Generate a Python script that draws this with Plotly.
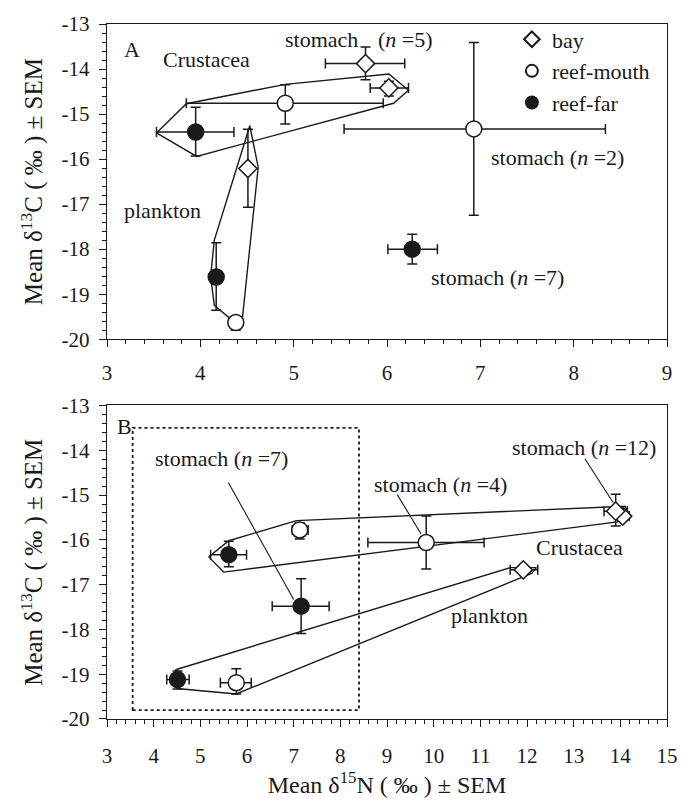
import plotly.graph_objects as go

FONT = "Liberation Serif"
INK = "#1a1a1a"

# ---------------- Panel A data ----------------
groups = ["bay", "reef-mouth", "reef-far"]

a_bay_x = [6.02, 5.77, 4.51]
a_bay_y = [-14.42, -13.88, -16.21]
a_bay_xm = [0.20, 0.43, 0.04]
a_bay_xp = [0.21, 0.42, 0.04]
a_bay_yp = [0.15, 0.37, 0.87]
a_bay_ym = [0.18, 0.36, 0.86]

a_mouth_x = [4.91, 6.93, 4.38]
a_mouth_y = [-14.76, -15.33, -19.63]
a_mouth_xm = [1.06, 1.39, 0.05]
a_mouth_xp = [1.05, 1.41, 0.05]
a_mouth_yp = [0.41, 1.92, 0.10]
a_mouth_ym = [0.46, 1.92, 0.17]

a_far_x = [3.95, 6.27, 4.17]
a_far_y = [-15.40, -18.00, -18.62]
a_far_xm = [0.42, 0.26, 0.03]
a_far_xp = [0.41, 0.27, 0.03]
a_far_yp = [0.55, 0.33, 0.76]
a_far_ym = [0.53, 0.33, 0.74]

a_crust_x = [3.53, 3.85, 4.91, 6.02, 6.23, 6.07, 3.96, 3.53]
a_crust_y = [-15.42, -14.77, -14.34, -14.11, -14.47, -14.76, -15.94, -15.42]
a_plank_x = [4.53, 4.62, 4.44, 4.15, 4.11, 4.15, 4.53]
a_plank_y = [-15.26, -16.18, -19.75, -19.25, -18.60, -17.80, -15.26]

# ---------------- Panel B data ----------------
b_bay_x = [14.05, 13.90, 11.92]
b_bay_y = [-15.47, -15.36, -16.67]
b_bay_xm = [0.10, 0.25, 0.28]
b_bay_xp = [0.14, 0.25, 0.31]
b_bay_yp = [0.10, 0.38, 0.04]
b_bay_ym = [0.10, 0.33, 0.04]

b_mouth_x = [7.13, 9.84, 5.77]
b_mouth_y = [-15.78, -16.06, -19.19]
b_mouth_xm = [0.16, 1.25, 0.34]
b_mouth_xp = [0.18, 1.24, 0.32]
b_mouth_yp = [0.16, 0.59, 0.31]
b_mouth_ym = [0.20, 0.59, 0.25]

b_far_x = [5.61, 7.16, 4.51]
b_far_y = [-16.33, -17.48, -19.12]
b_far_xm = [0.39, 0.62, 0.23]
b_far_xp = [0.38, 0.60, 0.25]
b_far_yp = [0.30, 0.61, 0.19]
b_far_ym = [0.27, 0.61, 0.21]

b_crust_x = [5.18, 5.61, 7.06, 14.10, 14.19, 13.94, 5.50, 5.18]
b_crust_y = [-16.38, -16.02, -15.57, -15.25, -15.42, -15.60, -16.72, -16.38]
b_plank_x = [4.47, 11.65, 12.20, 12.10, 5.77, 4.50, 4.47]
b_plank_y = [-18.90, -16.62, -16.62, -16.75, -19.44, -19.32, -18.90]

b_box_x = [3.55, 8.40]
b_box_y = [-19.80, -13.50]

# leader lines (x0, y0, x1, y1)
b_leader_n7 = [5.60, -14.72, 7.00, -17.33]
b_leader_n4 = [9.22, -14.99, 9.73, -15.87]
b_leader_n12 = [13.24, -14.19, 13.85, -15.17]

# labels
a_labels = [("A", 3.27, -13.57), ("Crustacea", 4.07, -13.78), ("plankton", 3.59, -17.15),
            ("stomach", 5.30, -13.35), ("(<i>n</i> =5)", 6.20, -13.35),
            ("stomach (<i>n</i> =2)", 7.83, -15.96), ("stomach (<i>n</i> =7)", 7.18, -18.64)]
b_labels = [("B", 3.37, -13.46), ("stomach (<i>n</i> =7)", 5.46, -14.19),
            ("stomach (<i>n</i> =4)", 10.14, -14.77), ("stomach (<i>n</i> =12)", 13.22, -13.93),
            ("Crustacea", 13.13, -16.16), ("plankton", 11.20, -17.69)]

y_tickvals = [-13, -14, -15, -16, -17, -18, -19, -20]
y_ticktext = ["-13", "-14", "-15", "-16", "-17", "-18", "-19", "-20"]
a_xtickvals = [3, 4, 5, 6, 7, 8, 9]
b_xtickvals = list(range(3, 16))

styles = {
    "bay": dict(symbol="diamond", size=14, color="white", line=dict(color=INK, width=1.5)),
    "reef-mouth": dict(symbol="circle", size=16, color="white", line=dict(color=INK, width=1.5)),
    "reef-far": dict(symbol="circle", size=16, color=INK, line=dict(color=INK, width=1.5)),
}

fig = go.Figure()


def poly(x, y, xa, ya):
    fig.add_trace(go.Scatter(x=x, y=y, mode="lines", line=dict(color=INK, width=1.4),
                             xaxis=xa, yaxis=ya, showlegend=False, hoverinfo="skip"))


def pts(name, x, y, xm, xp, ym, yp, xa, ya, legend):
    fig.add_trace(go.Scatter(
        x=x, y=y, mode="markers", name=name, marker=styles[name],
        error_x=dict(type="data", symmetric=False, array=xp, arrayminus=xm,
                     color=INK, thickness=1.5, width=5),
        error_y=dict(type="data", symmetric=False, array=yp, arrayminus=ym,
                     color=INK, thickness=1.5, width=5),
        xaxis=xa, yaxis=ya, showlegend=legend))


poly(a_crust_x, a_crust_y, "x", "y")
poly(a_plank_x, a_plank_y, "x", "y")
poly(b_crust_x, b_crust_y, "x2", "y2")
poly(b_plank_x, b_plank_y, "x2", "y2")

for ln in (b_leader_n7, b_leader_n4, b_leader_n12):
    fig.add_trace(go.Scatter(x=[ln[0], ln[2]], y=[ln[1], ln[3]], mode="lines",
                             line=dict(color=INK, width=1.1), xaxis="x2", yaxis="y2",
                             showlegend=False, hoverinfo="skip"))

pts("bay", a_bay_x, a_bay_y, a_bay_xm, a_bay_xp, a_bay_ym, a_bay_yp, "x", "y", True)
pts("reef-mouth", a_mouth_x, a_mouth_y, a_mouth_xm, a_mouth_xp, a_mouth_ym, a_mouth_yp, "x", "y", True)
pts("reef-far", a_far_x, a_far_y, a_far_xm, a_far_xp, a_far_ym, a_far_yp, "x", "y", True)
pts("bay", b_bay_x, b_bay_y, b_bay_xm, b_bay_xp, b_bay_ym, b_bay_yp, "x2", "y2", False)
pts("reef-mouth", b_mouth_x, b_mouth_y, b_mouth_xm, b_mouth_xp, b_mouth_ym, b_mouth_yp, "x2", "y2", False)
pts("reef-far", b_far_x, b_far_y, b_far_xm, b_far_xp, b_far_ym, b_far_yp, "x2", "y2", False)

fig.add_shape(type="rect", xref="x2", yref="y2", x0=b_box_x[0], x1=b_box_x[1],
              y0=b_box_y[0], y1=b_box_y[1], line=dict(color=INK, width=1.8, dash="dot"))

for t, x, y in a_labels:
    fig.add_annotation(text=t, x=x, y=y, xref="x", yref="y", showarrow=False,
                       font=dict(family=FONT, size=22, color=INK))
for t, x, y in b_labels:
    fig.add_annotation(text=t, x=x, y=y, xref="x2", yref="y2", showarrow=False,
                       font=dict(family=FONT, size=22, color=INK))

axis_common = dict(showline=True, linecolor=INK, linewidth=1.4, mirror=True,
                   ticks="outside", ticklen=7, tickwidth=1.4, tickcolor=INK,
                   showgrid=False, zeroline=False,
                   tickfont=dict(family=FONT, size=21, color=INK))
minor = dict(dtick=0.2, ticks="outside", ticklen=4, tickwidth=1.1, tickcolor=INK, showgrid=False)

# inner halves of the crossing major ticks
inner = dict(showline=False, ticks="inside", ticklen=7, tickwidth=1.4, tickcolor=INK,
             showticklabels=False, showgrid=False, zeroline=False, tickmode="array")

ytitle = "Mean δ<sup>13</sup>C ( ‰ ) ± SEM"

fig.update_layout(
    width=690, height=803,
    margin=dict(l=107, r=19, t=16, b=77),
    paper_bgcolor="white", plot_bgcolor="white",
    font=dict(family=FONT, color=INK),
    xaxis=dict(domain=[0, 1], anchor="y", range=[3, 9], tickmode="array",
               tickvals=a_xtickvals, ticklabelstandoff=7, minor=minor, **axis_common),
    yaxis=dict(domain=[0.5465, 1], anchor="x", range=[-20, -13], tickmode="array",
               tickvals=y_tickvals, ticktext=y_ticktext, ticklabelstandoff=5, minor=minor,
               title=dict(text=ytitle, font=dict(family=FONT, size=25, color=INK), standoff=11),
               **axis_common),
    xaxis2=dict(domain=[0, 1], anchor="y2", range=[3, 15], tickmode="array",
                tickvals=b_xtickvals, ticklabelstandoff=11, minor=minor,
                title=dict(text="Mean δ<sup>15</sup>N ( ‰ ) ± SEM",
                           font=dict(family=FONT, size=24, color=INK), standoff=6),
                **axis_common),
    yaxis2=dict(domain=[0, 0.4511], anchor="x2", range=[-20, -13], tickmode="array",
                tickvals=y_tickvals, ticktext=y_ticktext, ticklabelstandoff=5, minor=minor,
                title=dict(text=ytitle, font=dict(family=FONT, size=25, color=INK), standoff=11),
                **axis_common),
    xaxis3=dict(overlaying="x", anchor="y", side="bottom", range=[3, 9],
                tickvals=a_xtickvals, **inner),
    yaxis3=dict(overlaying="y", anchor="x", side="left", range=[-20, -13],
                tickvals=y_tickvals, **inner),
    xaxis4=dict(overlaying="x2", anchor="y2", side="bottom", range=[3, 15],
                tickvals=b_xtickvals, **inner),
    yaxis4=dict(overlaying="y2", anchor="x2", side="left", range=[-20, -13],
                tickvals=y_tickvals, **inner),
    legend=dict(x=0.723, y=1.008, xanchor="left", yanchor="top", bgcolor="rgba(0,0,0,0)",
                font=dict(family=FONT, size=22, color=INK), tracegroupgap=0,
                itemsizing="constant"),
)

fig.write_html("out.html")
